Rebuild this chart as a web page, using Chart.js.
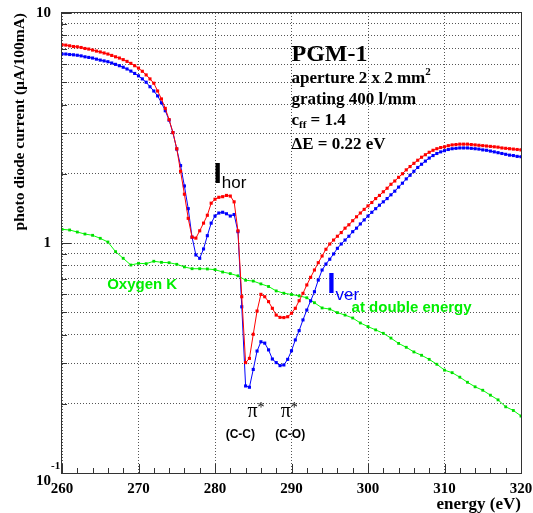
<!DOCTYPE html>
<html><head><meta charset="utf-8">
<script src="https://cdn.jsdelivr.net/npm/chart.js@4.4.0/dist/chart.umd.min.js"></script>
<style>html,body{margin:0;padding:0;background:#fff;}canvas{display:block;}</style>
</head><body>
<canvas id="c" width="533" height="513"></canvas>
<script>
// ---- data ----
const energyHalfStep = [260,260.5,261,261.5,262,262.5,263,263.5,264,264.5,265,265.5,266,266.5,267,267.5,268,268.5,269,269.5,
270,270.5,271,271.5,272,272.5,273,273.5,274,274.5,275,275.5,276,276.5,277,277.5,278,278.5,279,279.5,
280,280.5,281,281.5,282,282.5,283,283.5,284,284.5,285,285.5,286,286.5,287,287.5,288,288.5,289,289.5,
290,290.5,291,291.5,292,292.5,293,293.5,294,294.5,295,295.5,296,296.5,297,297.5,298,298.5,299,299.5,
300,300.5,301,301.5,302,302.5,303,303.5,304,304.5,305,305.5,306,306.5,307,307.5,308,308.5,309,309.5,
310,310.5,311,311.5,312,312.5,313,313.5,314,314.5,315,315.5,316,316.5,317,317.5,318,318.5,319,319.5,320];

const iHorValues = [7.28,7.25,7.20,7.15,7.13,7.08,7.01,6.97,6.90,6.83,6.77,6.70,6.63,6.54,6.45,6.37,6.27,6.16,6.04,5.90,
5.76,5.58,5.38,5.17,4.95,4.58,4.23,3.85,3.44,3.02,2.57,2.05,1.63,1.28,1.06,1.05,1.13,1.22,1.32,1.49,
1.55,1.58,1.59,1.61,1.60,1.51,1.13,0.584,0.302,0.315,0.401,0.506,0.598,0.584,0.556,0.520,0.486,0.475,0.474,0.478,
0.495,0.520,0.561,0.604,0.657,0.709,0.763,0.821,0.878,0.939,0.99,1.03,1.07,1.11,1.16,1.20,1.25,1.30,1.35,1.40,
1.45,1.50,1.56,1.61,1.67,1.73,1.80,1.86,1.93,2.00,2.08,2.15,2.22,2.29,2.36,2.42,2.48,2.53,2.57,2.60,
2.62,2.65,2.67,2.68,2.69,2.69,2.69,2.68,2.67,2.66,2.65,2.64,2.63,2.62,2.61,2.59,2.58,2.57,2.56,2.55,2.54];

const iVerValues = [6.63,6.63,6.60,6.58,6.55,6.51,6.45,6.41,6.37,6.30,6.24,6.19,6.14,6.06,5.98,5.90,5.81,5.71,5.59,5.46,
5.33,5.17,5.00,4.78,4.58,4.36,4.07,3.76,3.42,3.02,2.56,2.17,1.77,1.41,1.06,0.887,0.858,0.942,1.076,1.22,
1.31,1.35,1.36,1.34,1.31,1.33,1.12,0.528,0.239,0.236,0.282,0.339,0.372,0.367,0.343,0.313,0.302,0.293,0.295,0.312,
0.340,0.379,0.416,0.463,0.511,0.560,0.614,0.690,0.763,0.81,0.85,0.896,0.948,0.99,1.03,1.07,1.12,1.16,1.21,1.26,
1.31,1.36,1.41,1.46,1.51,1.56,1.62,1.68,1.75,1.82,1.90,1.97,2.05,2.13,2.20,2.27,2.34,2.40,2.45,2.49,
2.52,2.55,2.57,2.58,2.59,2.59,2.59,2.58,2.57,2.56,2.54,2.53,2.51,2.49,2.47,2.45,2.43,2.41,2.40,2.38,2.37];

const energyOxygen = [260,261,262,263,264,265,266,267,268,269,270,271,272,273,274,275,276,277,278,279,
280,281,282,283,284,285,286,287,288,289,290,291,292,293,294,295,296,297,298,299,
300,301,302,303,304,305,306,307,308,309,310,311,312,313,314,315,316,317,318,319,320];

const oxygenValues = [1.147,1.139,1.116,1.094,1.080,1.048,1.010,0.917,0.858,0.802,0.816,0.813,0.833,0.824,0.821,0.808,0.787,0.773,0.773,0.771,
0.766,0.748,0.736,0.720,0.689,0.683,0.664,0.647,0.619,0.605,0.597,0.589,0.578,0.550,0.522,0.516,0.498,0.486,0.472,0.449,
0.433,0.419,0.405,0.386,0.366,0.352,0.336,0.325,0.312,0.297,0.280,0.273,0.261,0.248,0.237,0.229,0.218,0.208,0.194,0.187,0.177];

const xTickValues = [260,270,280,290,300,310,320];
const xMinorTickValues = [262,264,266,268,272,274,276,278,282,284,286,288,292,294,296,298,302,304,306,308,312,314,316,318];
const yTickValues = [0.1,0.2,0.3,0.4,0.5,0.6,0.7,0.8,0.9,1,2,3,4,5,6,7,8,9,10];
const yLabelled = {10:'10', 1:'1'};

// ---- chart ----
const SERIF = "'Liberation Serif','Times New Roman',serif";
const SANS = "'Liberation Sans',Arial,Helvetica,sans-serif";
const GREEN = '#00ee00';

const pts = (xs, ys) => xs.map((x, i) => ({x, y: ys[i]}));

function text(ctx, s, px, py, font, color, align) {
  ctx.font = font; ctx.fillStyle = color; ctx.textAlign = align || 'left'; ctx.textBaseline = 'alphabetic';
  ctx.fillText(s, px, py);
  return ctx.measureText(s).width;
}

const annotations = {
  id: 'annotations',
  afterDraw(chart) {
    const {ctx, chartArea: a, scales: {x, y}} = chart;
    const X = v => x.getPixelForValue(v), Y = v => y.getPixelForValue(v);
    ctx.save();
    // frame
    ctx.strokeStyle = '#333'; ctx.lineWidth = 1; ctx.setLineDash([]);
    ctx.strokeRect(Math.round(a.left) - 0.5, Math.round(a.top) - 0.5, Math.round(a.right - a.left) + 1, Math.round(a.bottom - a.top) + 1);
    // tick marks (inside)
    ctx.beginPath();
    xTickValues.forEach(e => { const p = Math.round(X(e)) + 0.5; ctx.moveTo(p, a.bottom); ctx.lineTo(p, a.bottom - 9); });
    xMinorTickValues.forEach(e => { const p = Math.round(X(e)) + 0.5; ctx.moveTo(p, a.bottom); ctx.lineTo(p, a.bottom - 5); });
    yTickValues.forEach(v => { const p = Math.round(Y(v)) + 0.5; const len = (v === 1 || v === 10 || v === 0.1) ? 9 : 5; ctx.moveTo(a.left, p); ctx.lineTo(a.left + len, p); });
    ctx.stroke();

    // 10^-1 label
    const yb = Y(0.1);
    ctx.font = 'bold 15px ' + SERIF; ctx.fillStyle = '#000'; ctx.textAlign = 'right'; ctx.textBaseline = 'middle';
    ctx.fillText('10', a.left - 11, yb + 8);
    ctx.font = 'bold 11px ' + SERIF; ctx.textAlign = 'left';
    ctx.fillText('-1', a.left - 11, yb - 7);

    // info block
    const bx = X(290.0);
    text(ctx, 'PGM-1', bx, Y(6.20), 'bold 24px ' + SERIF, '#000');
    let w = text(ctx, 'aperture 2 x 2 mm', bx, Y(4.96), 'bold 17px ' + SERIF, '#000');
    text(ctx, '2', bx + w, Y(4.96) - 8, 'bold 11px ' + SERIF, '#000');
    text(ctx, 'grating 400 l/mm', bx, Y(4.02), 'bold 17px ' + SERIF, '#000');
    w = text(ctx, 'c', bx, Y(3.26), 'bold 17px ' + SERIF, '#000');
    w += text(ctx, 'ff', bx + w, Y(3.26) + 3, 'bold 11px ' + SERIF, '#000');
    text(ctx, ' = 1.4', bx + w, Y(3.26), 'bold 17px ' + SERIF, '#000');
    text(ctx, '\u0394E = 0.22 eV', bx, Y(2.56), 'bold 17px ' + SERIF, '#000');

    // I_hor
    let ix = X(279.8);
    w = text(ctx, 'I', ix, Y(1.818), 'bold 30px ' + SANS, '#000');
    text(ctx, 'hor', ix + w, Y(1.735), '17px ' + SANS, '#000');
    // I_ver
    ix = X(294.66);
    w = text(ctx, 'I', ix, Y(0.604), 'bold 30px ' + SANS, '#0000ff');
    text(ctx, 'ver', ix + w, Y(0.565), '17px ' + SANS, '#0000ff');

    // Oxygen K
    text(ctx, 'Oxygen K', X(265.9), Y(0.628), 'bold 15px ' + SANS, GREEN);
    text(ctx, 'at double energy', X(297.85), Y(0.50), 'bold 15px ' + SANS, GREEN);

    // pi* labels
    [[284.24, 283.31, '(C-C)'], [288.59, 289.83, '(C-O)']].forEach(([pe, ce, lab]) => {
      const pw = text(ctx, '\u03c0', X(pe), Y(0.1753), '20px ' + SERIF, '#000');
      text(ctx, '*', X(pe) + pw, Y(0.1753) - 5, '14px ' + SERIF, '#000');
      text(ctx, lab, X(ce), Y(0.1423), 'bold 12px ' + SANS, '#000', 'center');
    });
    ctx.restore();
  }
};

const gridOpts = {color: '#555', lineWidth: 1, drawTicks: false};

new Chart(document.getElementById('c'), {
  type: 'line',
  data: {
    datasets: [
      {data: pts(energyHalfStep, iHorValues), borderColor: '#ff0000', backgroundColor: '#ff0000', borderWidth: 1,
       pointStyle: 'rect', pointRadius: 2.2, pointBorderWidth: 0, tension: 0},
      {data: pts(energyHalfStep, iVerValues), borderColor: '#0000ff', backgroundColor: '#0000ff', borderWidth: 1,
       pointStyle: 'rect', pointRadius: 2.2, pointBorderWidth: 0, tension: 0},
      {data: pts(energyOxygen, oxygenValues), borderColor: '#00ff00', backgroundColor: '#00dd00', borderWidth: 1,
       pointStyle: 'rect', pointRadius: 2, pointBorderWidth: 0, tension: 0}
    ]
  },
  options: {
    responsive: false, animation: false, devicePixelRatio: 1, events: [],
    layout: {padding: {left: 0, right: 12, top: 13, bottom: 0}},
    plugins: {legend: {display: false}, tooltip: {enabled: false}},
    scales: {
      x: {
        type: 'linear', min: 260, max: 320,
        afterBuildTicks: s => { s.ticks = xTickValues.map(v => ({value: v})); },
        afterFit: s => { s.height = 40; s.paddingLeft = 0; s.paddingRight = 0; },
        grid: gridOpts, border: {display: false, dash: [1, 2]},
        ticks: {autoSkip: false, maxRotation: 0, padding: 7, color: '#000',
                font: {family: SERIF, weight: 'bold', size: 15}, callback: v => String(v)},
        title: {display: true, text: 'energy (eV)', align: 'end', color: '#000', padding: 0,
                font: {family: SERIF, weight: 'bold', size: 17, lineHeight: 1}}
      },
      y: {
        type: 'logarithmic', min: 0.1, max: 10,
        afterBuildTicks: s => { s.ticks = yTickValues.map(v => ({value: v})); },
        afterFit: s => { s.width = 62; s.paddingTop = 0; s.paddingBottom = 0; },
        grid: gridOpts, border: {display: false, dash: [1, 2]},
        ticks: {autoSkip: false, padding: 11, color: '#000',
                font: {family: SERIF, weight: 'bold', size: 15},
                callback: v => yLabelled[v] || ''},
        title: {display: true, text: 'photo diode current (\u00b5A/100mA)', align: 'end', color: '#000',
                padding: {top: 11, bottom: 0}, font: {family: SERIF, weight: 'bold', size: 15.5}}
      }
    }
  },
  plugins: [annotations]
});
</script>
</body></html>
